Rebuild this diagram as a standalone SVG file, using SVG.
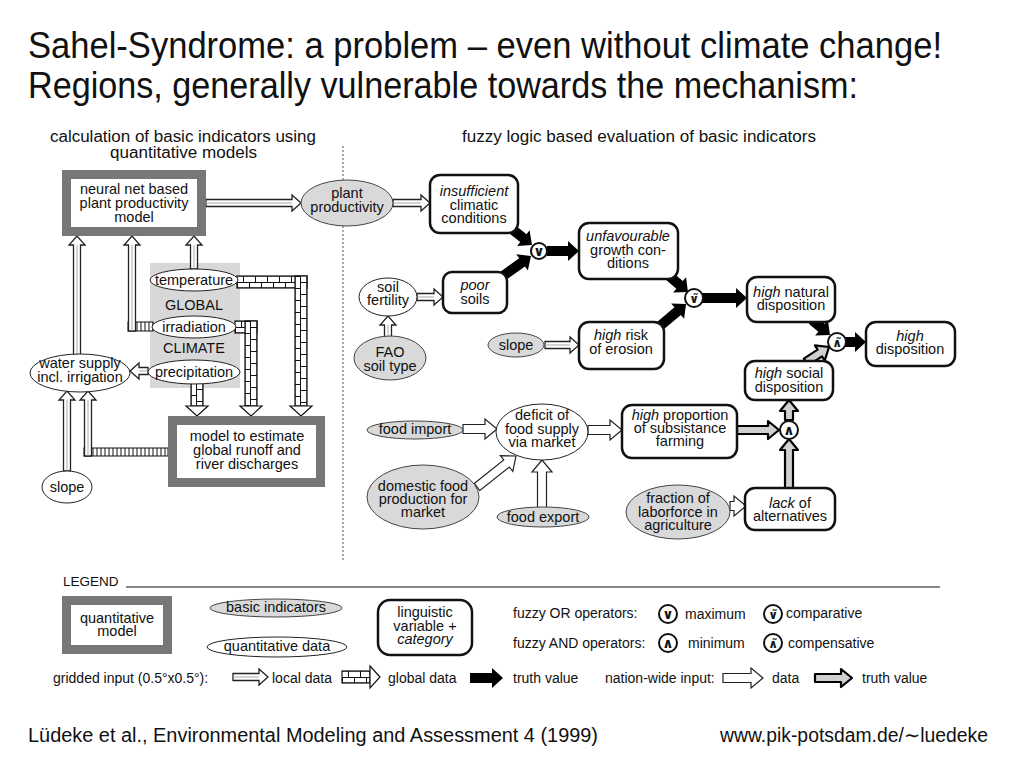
<svg xmlns="http://www.w3.org/2000/svg" width="1024" height="768" viewBox="0 0 1024 768">
<defs>
<pattern id="brick" width="12" height="12" patternUnits="userSpaceOnUse">
<rect width="12" height="12" fill="#fff"/>
<path d="M0,0.5H12M0,6H12M0.5,0V6M6.5,6V12" stroke="#111" stroke-width="1" fill="none"/>
</pattern>
<pattern id="stripe" width="4" height="10" patternUnits="userSpaceOnUse">
<rect width="4" height="10" fill="#fff"/>
<path d="M1,0V10" stroke="#111" stroke-width="1"/>
</pattern>
</defs>
<style>
text{font-family:"Liberation Sans",Arial,Helvetica,sans-serif;fill:#111}
.c{text-anchor:middle;font-size:14.5px}
.s{font-size:14px}
.i{font-style:italic}
.qm{fill:#fff;stroke:#777;stroke-width:9}
.lv{fill:#fff;stroke:#111;stroke-width:2.5}
.bi{fill:#d9d9d9;stroke:#444;stroke-width:1}
.qd{fill:#fff;stroke:#222;stroke-width:1}
.op{fill:#fff;stroke:#111;stroke-width:2}
.sym{font-family:"DejaVu Sans",sans-serif;font-weight:bold;text-anchor:middle;font-size:14px}
.symt{font-family:"DejaVu Sans",sans-serif;font-weight:bold;text-anchor:middle;font-size:12px}
.dl{fill:#fff;stroke:#222;stroke-width:1.3}
.dlm{fill:none;stroke:#aaa;stroke-width:1}
.br{fill:url(#brick);stroke:#111;stroke-width:1.2}
.brh{fill:#fff;stroke:#111;stroke-width:1.2}
.st{fill:url(#stripe);stroke:#111;stroke-width:1}
.tv{fill:#000}
.gt{fill:#d0d0d0;stroke:#000;stroke-width:2.2;stroke-linejoin:round}
.nh{fill:#fff;stroke:#222;stroke-width:1.2}
</style>
<rect width="1024" height="768" fill="#fff"/>

<g id="titles">
<text x="28" y="58" font-size="37" textLength="914" lengthAdjust="spacingAndGlyphs">Sahel-Syndrome: a problem – even without climate change!</text>
<text x="28" y="98" font-size="37" textLength="830" lengthAdjust="spacingAndGlyphs">Regions, generally vulnerable towards the mechanism:</text>
<text x="50" y="142" font-size="16" textLength="266" lengthAdjust="spacingAndGlyphs">calculation of basic indicators using</text>
<text x="110" y="158" font-size="16" textLength="147" lengthAdjust="spacingAndGlyphs">quantitative models</text>
<text x="462" y="142" font-size="16" textLength="354" lengthAdjust="spacingAndGlyphs">fuzzy logic based evaluation of basic indicators</text>
<line x1="343" y1="146" x2="343" y2="560" stroke="#777" stroke-width="1.2" stroke-dasharray="2,2"/>
</g>

<g id="climate-panel">
<rect x="150" y="263" width="90" height="125" fill="#d8d8d8"/>
<text class="c" x="194" y="310">GLOBAL</text>
<text class="c" x="194" y="353">CLIMATE</text>
</g>

<g id="connectors">
<rect class="br" x="0" y="-6" width="70" height="12" transform="translate(237,282)"/>
<g transform="translate(301,276) rotate(90)"><rect class="br" x="0" y="-6" width="130" height="12"/><path class="brh" d="M130,-11L140,0L130,11Z"/></g>
<rect class="br" x="0" y="-6" width="22" height="12" transform="translate(235,327)"/>
<g transform="translate(251,321) rotate(90)"><rect class="br" x="0" y="-6" width="85" height="12"/><path class="brh" d="M85,-11L95,0L85,11Z"/></g>
<g transform="translate(197,383) rotate(90)"><rect class="br" x="0" y="-6" width="23" height="12"/><path class="brh" d="M23,-11L33,0L23,11Z"/></g>
<rect class="st" x="128" y="322" width="25" height="9"/>
<rect class="st" x="84" y="448" width="84" height="8"/>
<g transform="translate(206,203)"><path class="dl" d="M0,-3.5H86V-8L95,0L86,8V3.5H0Z"/><path class="dlm" d="M0,0H86"/></g>
<g transform="translate(77,355) rotate(-90)"><path class="dl" d="M0,-3.5H110V-8L119,0L110,8V3.5H0Z"/><path class="dlm" d="M0,0H110"/></g>
<g transform="translate(132,331) rotate(-90)"><path class="dl" d="M0,-3.5H86V-8L95,0L86,8V3.5H0Z"/><path class="dlm" d="M0,0H86"/></g>
<g transform="translate(194,269) rotate(-90)"><path class="dl" d="M0,-3.5H24V-8L33,0L24,8V3.5H0Z"/><path class="dlm" d="M0,0H24"/></g>
<g transform="translate(148,371) rotate(180)"><path class="dl" d="M0,-3.5H9V-8L18,0L9,8V3.5H0Z"/><path class="dlm" d="M0,0H9"/></g>
<g transform="translate(67,471) rotate(-90)"><path class="dl" d="M0,-3.5H71V-8L80,0L71,8V3.5H0Z"/><path class="dlm" d="M0,0H71"/></g>
<g transform="translate(88,456) rotate(-90)"><path class="dl" d="M0,-3.5H56V-8L65,0L56,8V3.5H0Z"/><path class="dlm" d="M0,0H56"/></g>
<g transform="translate(393,203)"><path class="dl" d="M0,-3.5H28V-8L37,0L28,8V3.5H0Z"/><path class="dlm" d="M0,0H28"/></g>
<g transform="translate(417,297)"><path class="dl" d="M0,-3.5H17V-8L26,0L17,8V3.5H0Z"/><path class="dlm" d="M0,0H17"/></g>
<g transform="translate(388,337) rotate(-90)"><path class="dl" d="M0,-3.5H12V-8L21,0L12,8V3.5H0Z"/><path class="dlm" d="M0,0H12"/></g>
<g transform="translate(545,345)"><path class="dl" d="M0,-3.5H25V-8L34,0L25,8V3.5H0Z"/><path class="dlm" d="M0,0H25"/></g>
<path class="tv" transform="translate(508,226) rotate(38.4)" d="M0,-5H19.6V-10L30.6,0L19.6,10V5H0Z"/>
<path class="tv" transform="translate(503,276) rotate(-35.5)" d="M0,-5H23.4V-10L34.4,0L23.4,10V5H0Z"/>
<path class="tv" transform="translate(547,251)" d="M0,-5H21V-10L32,0L21,10V5H0Z"/>
<path class="tv" transform="translate(668,275) rotate(40.4)" d="M0,-5H15.2V-10L26.2,0L15.2,10V5H0Z"/>
<path class="tv" transform="translate(660,326) rotate(-40.2)" d="M0,-5H23.1V-10L34.1,0L23.1,10V5H0Z"/>
<path class="tv" transform="translate(702,298)" d="M0,-5H34V-10L45,0L34,10V5H0Z"/>
<path class="tv" transform="translate(812,320) rotate(39.8)" d="M0,-5H12.4V-10L23.4,0L12.4,10V5H0Z"/>
<path class="tv" transform="translate(845,342)" d="M0,-5H10V-10L21,0L10,10V5H0Z"/>
<path class="gt" transform="translate(806,362) rotate(-33.1)" d="M0,-4H16.5V-9L27.5,0L16.5,9V4H0Z"/>
<path class="gt" transform="translate(789,420) rotate(-90)" d="M0,-4H9V-9L20,0L9,9V4H0Z"/>
<path class="gt" transform="translate(737,430)" d="M0,-4H31V-9L42,0L31,9V4H0Z"/>
<path class="gt" transform="translate(789,488) rotate(-90)" d="M0,-4H38V-9L49,0L38,9V4H0Z"/>
<path class="nh" transform="translate(463,429)" d="M0,-4.5H22V-10L34,0L22,10V4.5H0Z"/>
<path class="nh" transform="translate(477,487) rotate(-38.5)" d="M0,-4.5H37.8V-10L49.8,0L37.8,10V4.5H0Z"/>
<path class="nh" transform="translate(542,508) rotate(-90)" d="M0,-4.5H36V-10L48,0L36,10V4.5H0Z"/>
<path class="nh" transform="translate(588,430)" d="M0,-4.5H22V-10L34,0L22,10V4.5H0Z"/>
<path class="nh" transform="translate(730,506)" d="M0,-4.5H4V-10L16,0L4,10V4.5H0Z"/>
</g>

<g id="neural-net-model">
<rect class="qm" x="66.5" y="174.5" width="135" height="57"/>
<text class="c" x="134" y="194">neural net based</text>
<text class="c" x="134" y="208">plant productivity</text>
<text class="c" x="134" y="222">model</text>
</g>
<g id="runoff-model">
<rect class="qm" x="172.5" y="420.5" width="148" height="62"/>
<text class="c" x="247" y="441">model to estimate</text>
<text class="c" x="247" y="455">global runoff and</text>
<text class="c" x="247" y="469">river discharges</text>
</g>
<g id="plant-productivity"><ellipse class="bi" cx="347" cy="203" rx="46" ry="23"/><text class="c" x="347" y="198">plant</text><text class="c" x="347" y="212">productivity</text></g>
<g id="temperature"><ellipse class="qd" cx="194" cy="280" rx="44" ry="11"/><text class="c" x="194" y="285">temperature</text></g>
<g id="irradiation"><ellipse class="qd" cx="194" cy="327" rx="42" ry="11"/><text class="c" x="194" y="332">irradiation</text></g>
<g id="precipitation"><ellipse class="qd" cx="194" cy="372" rx="46" ry="12"/><text class="c" x="194" y="377">precipitation</text></g>
<g id="water-supply"><ellipse class="qd" cx="80" cy="373" rx="50" ry="19"/><text class="c" x="80" y="368">water supply</text><text class="c" x="80" y="382">incl. irrigation</text></g>
<g id="slope-left"><ellipse class="qd" cx="67" cy="487" rx="25" ry="16"/><text class="c" x="67" y="492">slope</text></g>

<g id="insufficient"><rect class="lv" x="430" y="175" width="88" height="58" rx="10"/><text class="c i" x="474" y="196">insufficient</text><text class="c" x="474" y="210">climatic</text><text class="c" x="474" y="223">conditions</text></g>
<g id="unfavourable"><rect class="lv" x="579" y="223" width="99" height="56" rx="10"/><text class="c i" x="628" y="241">unfavourable</text><text class="c" x="628" y="255">growth con-</text><text class="c" x="628" y="268">ditions</text></g>
<g id="soil-fertility"><ellipse class="qd" cx="388" cy="297" rx="29" ry="19"/><text class="c" x="388" y="292">soil</text><text class="c" x="388" y="305">fertility</text></g>
<g id="poor-soils"><rect class="lv" x="443" y="272" width="64" height="41" rx="9"/><text class="c i" x="475" y="290">poor</text><text class="c" x="475" y="304">soils</text></g>
<g id="fao-soil-type"><ellipse class="bi" cx="390" cy="358" rx="36" ry="22"/><text class="c" x="390" y="357">FAO</text><text class="c" x="390" y="371">soil type</text></g>
<g id="slope-right"><ellipse class="bi" cx="516" cy="345" rx="28" ry="12"/><text class="c" x="516" y="350">slope</text></g>
<g id="high-risk"><rect class="lv" x="579" y="322" width="85" height="47" rx="10"/><text class="c" x="621" y="340"><tspan class="i">high</tspan> risk</text><text class="c" x="621" y="354">of erosion</text></g>
<g id="high-natural"><rect class="lv" x="747" y="277" width="88" height="45" rx="10"/><text class="c" x="791" y="297"><tspan class="i">high</tspan> natural</text><text class="c" x="791" y="310">disposition</text></g>
<g id="high-disposition"><rect class="lv" x="866" y="322" width="89" height="44" rx="10"/><text class="c i" x="910" y="341">high</text><text class="c" x="910" y="354">disposition</text></g>
<g id="high-social"><rect class="lv" x="745" y="361" width="88" height="39" rx="10"/><text class="c" x="789" y="378"><tspan class="i">high</tspan> social</text><text class="c" x="789" y="392">disposition</text></g>
<g id="high-proportion"><rect class="lv" x="622" y="405" width="115" height="53" rx="10"/><text class="c" x="680" y="420"><tspan class="i">high</tspan> proportion</text><text class="c" x="680" y="433">of subsistance</text><text class="c" x="680" y="446">farming</text></g>
<g id="lack-of-alternatives"><rect class="lv" x="745" y="488" width="90" height="42" rx="10"/><text class="c" x="790" y="508"><tspan class="i">lack</tspan> of</text><text class="c" x="790" y="521">alternatives</text></g>
<g id="fraction-laborforce"><ellipse class="bi" cx="678" cy="512" rx="52" ry="27"/><text class="c" x="678" y="503">fraction of</text><text class="c" x="678" y="517">laborforce in</text><text class="c" x="678" y="530">agriculture</text></g>
<g id="food-import"><ellipse class="bi" cx="415" cy="430" rx="48" ry="9"/><text class="c" x="415" y="434">food import</text></g>
<g id="deficit"><ellipse class="qd" cx="542" cy="432" rx="46" ry="28"/><text class="c" x="542" y="420">deficit of</text><text class="c" x="542" y="434">food supply</text><text class="c" x="542" y="447">via market</text></g>
<g id="domestic-food"><ellipse class="bi" cx="423" cy="497" rx="56" ry="32"/><text class="c" x="423" y="491">domestic food</text><text class="c" x="423" y="504">production for</text><text class="c" x="423" y="517">market</text></g>
<g id="food-export"><ellipse class="bi" cx="543" cy="517" rx="46" ry="10"/><text class="c" x="543" y="522">food export</text></g>

<g id="op-max"><circle class="op" cx="539" cy="251" r="8"/><text class="sym" x="539" y="256">∨</text></g>
<g id="op-comparative"><circle class="op" cx="694" cy="298" r="9"/><text class="symt" x="694" y="303">∨̃</text></g>
<g id="op-compensative"><circle class="op" cx="837" cy="342" r="9"/><text class="symt" x="837" y="347">∧̃</text></g>
<g id="op-min"><circle class="op" cx="789" cy="430" r="9"/><text class="sym" x="789" y="435">∧</text></g>

<g id="legend">
<text x="63" y="586" font-size="13.5">LEGEND</text>
<line x1="126" y1="587" x2="940" y2="587" stroke="#111" stroke-width="1"/>
<rect class="qm" x="66.5" y="600.5" width="101" height="49"/>
<text class="c" x="117" y="623">quantitative</text>
<text class="c" x="117" y="636">model</text>
<ellipse class="bi" cx="276" cy="608" rx="66" ry="9"/>
<text class="c" x="276" y="612">basic indicators</text>
<ellipse class="qd" cx="277" cy="647" rx="70" ry="10"/>
<text class="c" x="277" y="651">quantitative data</text>
<rect class="lv" x="378" y="600" width="94" height="55" rx="12"/>
<text class="c" x="425" y="617">linguistic</text>
<text class="c" x="425" y="631">variable +</text>
<text class="c i" x="425" y="644">category</text>
<text class="s" x="513" y="618">fuzzy OR operators:</text>
<circle class="op" cx="668" cy="614" r="9"/><text class="sym" x="668" y="619">∨</text>
<text class="s" x="685" y="619">maximum</text>
<circle class="op" cx="773" cy="614" r="9"/><text class="symt" x="773" y="619">∨̃</text>
<text class="s" x="786" y="618">comparative</text>
<text class="s" x="513" y="648">fuzzy AND operators:</text>
<circle class="op" cx="668" cy="643" r="9"/><text class="sym" x="668" y="648">∧</text>
<text class="s" x="688" y="648">minimum</text>
<circle class="op" cx="773" cy="643" r="9"/><text class="symt" x="773" y="648">∧̃</text>
<text class="s" x="788" y="648">compensative</text>
<text class="s" x="53" y="683">gridded input (0.5°x0.5°):</text>
<g transform="translate(233,677)"><path class="dl" d="M0,-3.5H26V-8L35,0L26,8V3.5H0Z"/><path class="dlm" d="M0,0H26"/></g>
<text class="s" x="272" y="683">local data</text>
<g transform="translate(342,677)"><rect class="br" x="0" y="-6" width="28" height="12"/><path class="brh" d="M28,-11L38,0L28,11Z"/></g>
<text class="s" x="388" y="683">global data</text>
<path class="tv" transform="translate(470,678)" d="M0,-5H22V-10L33,0L22,10V5H0Z"/>
<text class="s" x="513" y="683">truth value</text>
<text class="s" x="605" y="683">nation-wide input:</text>
<path class="nh" transform="translate(723,678)" d="M0,-4.5H28V-10L40,0L28,10V4.5H0Z"/>
<text class="s" x="772" y="683">data</text>
<path class="gt" transform="translate(815,678)" d="M0,-4H26V-9L37,0L26,9V4H0Z"/>
<text class="s" x="862" y="683">truth value</text>
</g>

<g id="footer">
<text x="28" y="742" font-size="20" textLength="570" lengthAdjust="spacingAndGlyphs">Lüdeke et al., Environmental Modeling and Assessment 4 (1999)</text>
<text x="720" y="742" font-size="20" textLength="268" lengthAdjust="spacingAndGlyphs">www.pik-potsdam.de/∼luedeke</text>
</g>
</svg>
